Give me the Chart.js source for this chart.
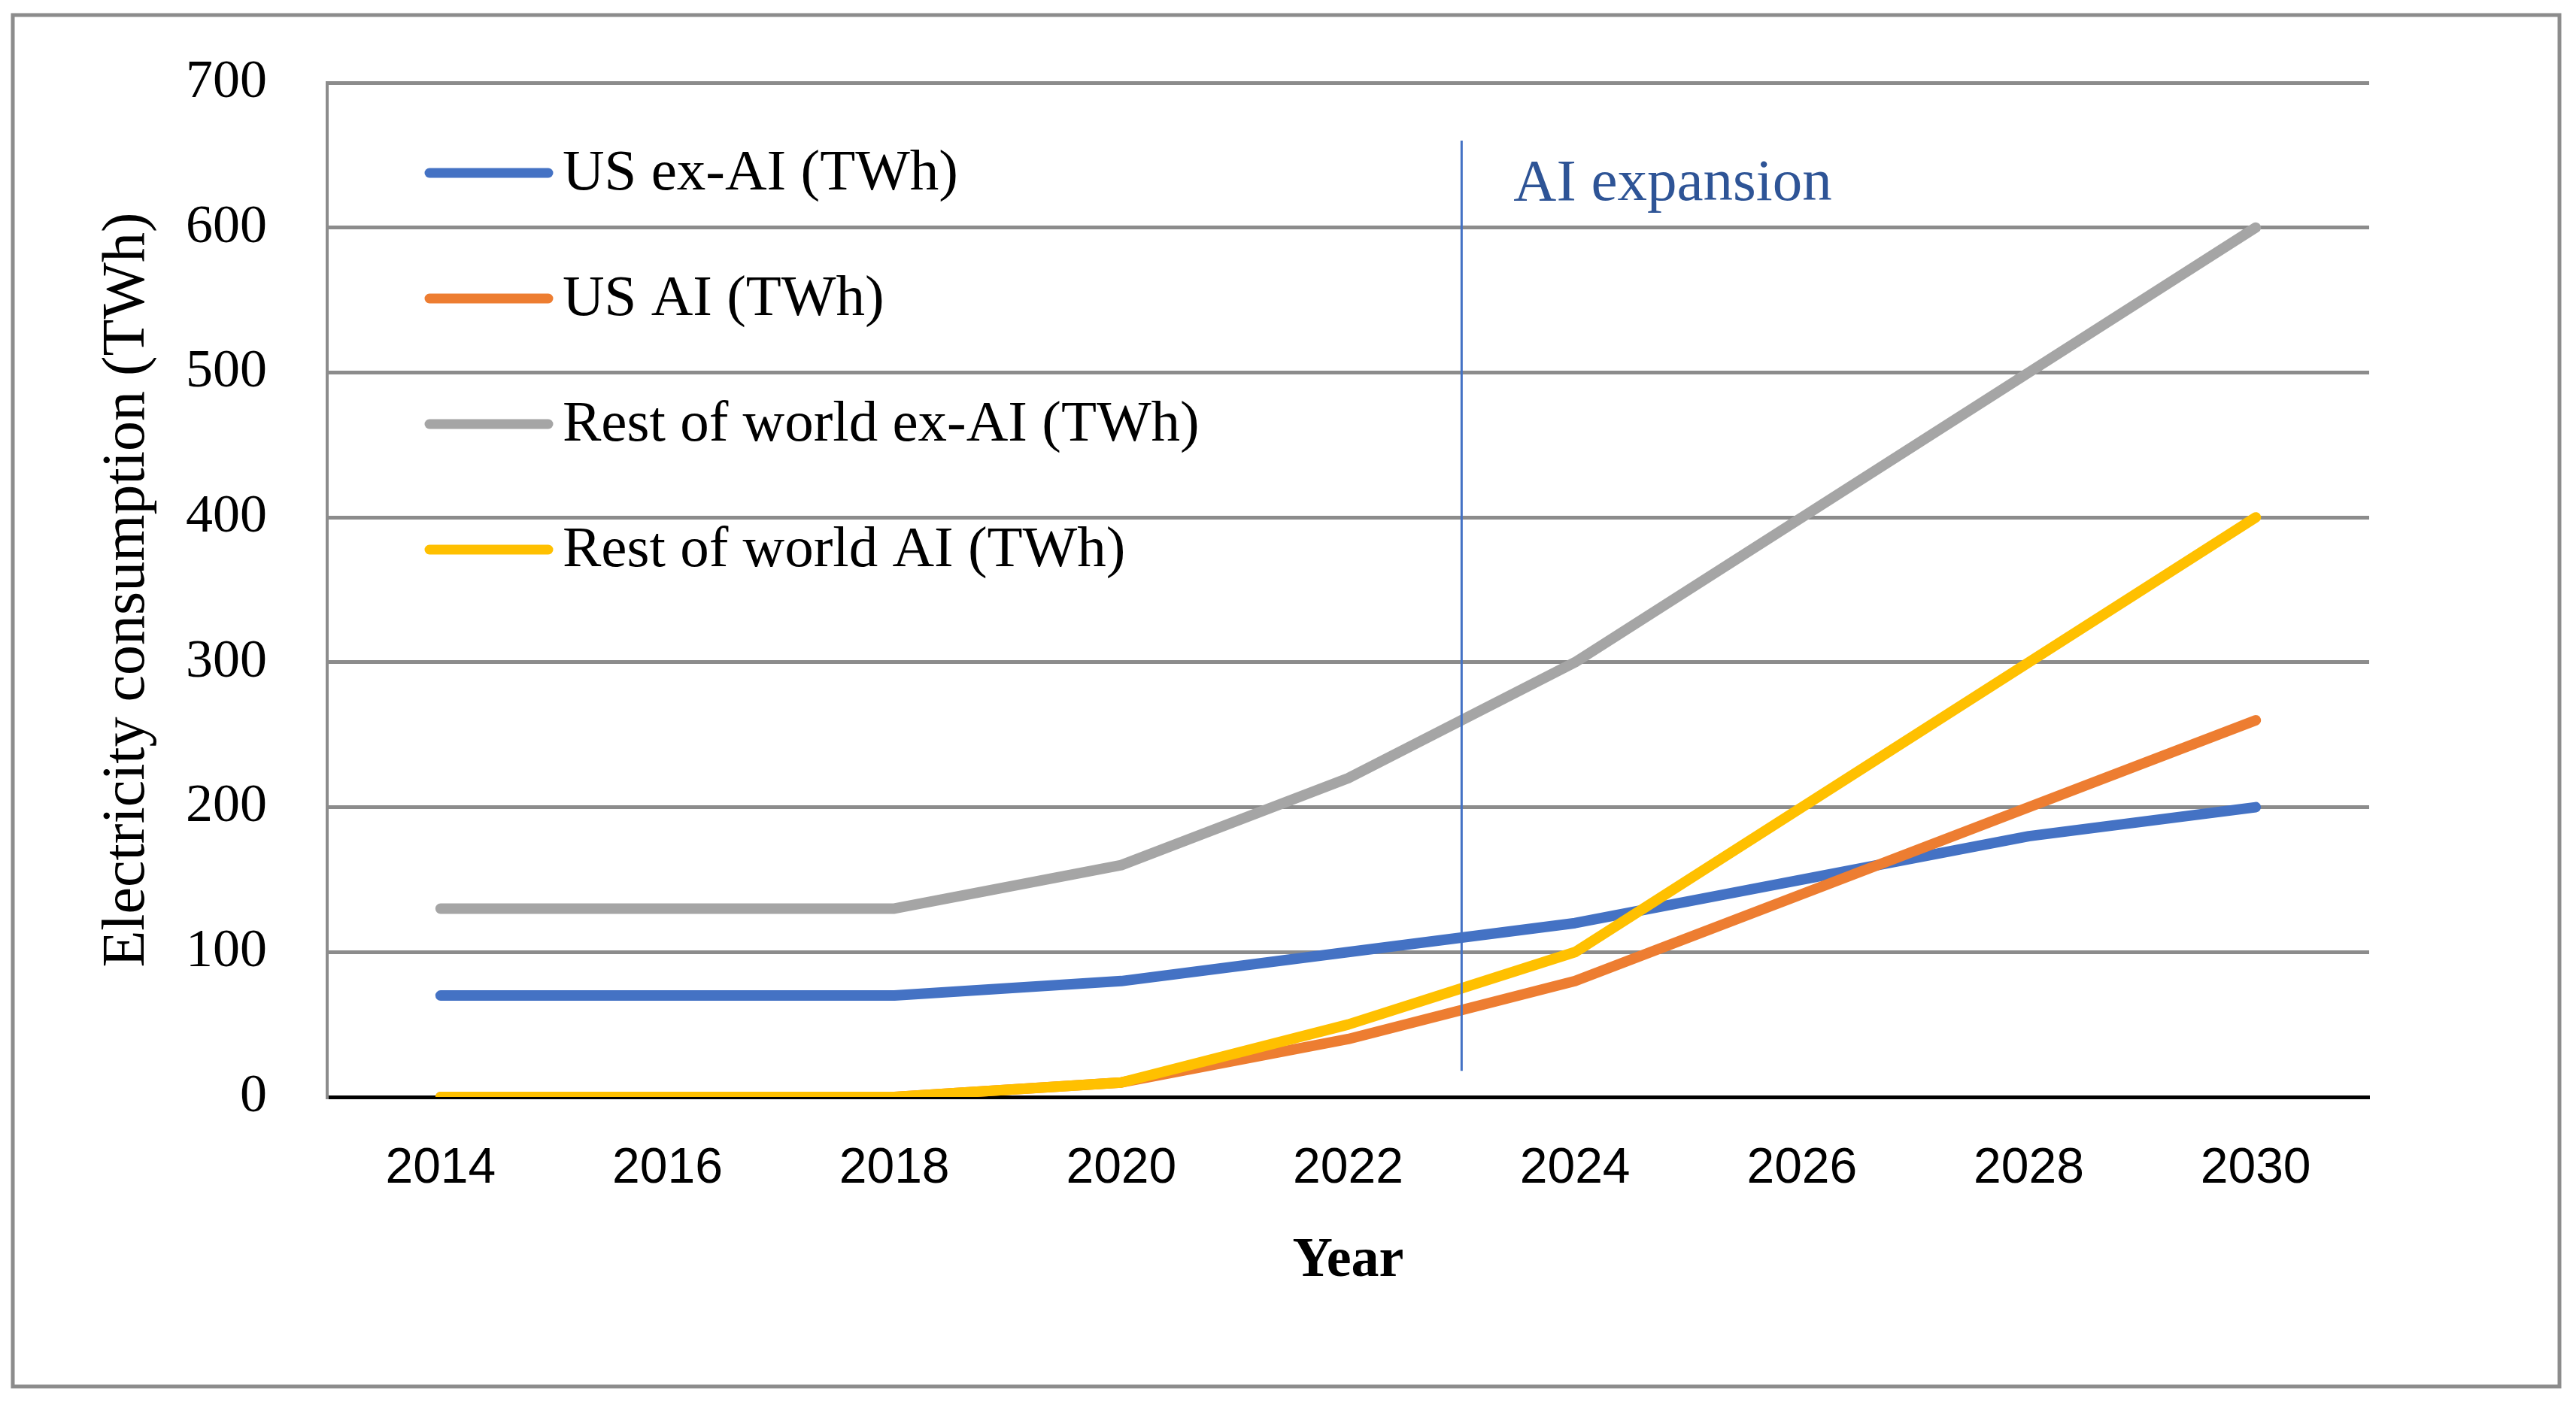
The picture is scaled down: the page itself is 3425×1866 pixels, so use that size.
<!DOCTYPE html>
<html>
<head>
<meta charset="utf-8">
<script src="https://cdn.jsdelivr.net/npm/chart.js@4/dist/chart.umd.min.js"></script>
<style>
  html, body { margin: 0; padding: 0; background: #ffffff; }
  #wrap { width: 3425px; height: 1866px; }
</style>
</head>
<body>
<div id="wrap"><canvas id="c" width="3425" height="1866"></canvas></div>
<script>
// ---- data ----
const years = ['2014', '2016', '2018', '2020', '2022', '2024', '2026', '2028', '2030'];
const seriesLabels = ['US ex-AI (TWh)', 'US AI (TWh)', 'Rest of world ex-AI (TWh)', 'Rest of world AI (TWh)'];
const usExAI  = [70, 70, 70, 80, 100, 120, 150, 180, 200];
const usAI    = [0, 0, 0, 10, 40, 80, 140, 200, 260];
const rowExAI = [130, 130, 130, 160, 220, 300, 400, 500, 600];
const rowAI   = [0, 0, 0, 10, 50, 100, 200, 300, 400];
const yMin = 0, yMax = 700, yStep = 100;
const markerBetween = ['2022', '2024'];
const markerRange = [18, 660];
const markerLabel = 'AI expansion';
const markerLabelValue = 619;
const xTitle = 'Year';
const yTitle = 'Electricity consumption (TWh)';

const colors = ['#4472C4', '#ED7D31', '#A5A5A5', '#FFC000'];
const serifFont = "'Liberation Serif', 'Times New Roman', serif";
const sansFont = "'Liberation Sans', Arial, sans-serif";

const frame = {
  id: 'frame',
  beforeDraw(chart) {
    const ctx = chart.ctx;
    ctx.save();
    ctx.fillStyle = '#ffffff';
    ctx.fillRect(0, 0, chart.width, chart.height);
    ctx.strokeStyle = '#8c8c8c';
    ctx.lineWidth = 5;
    ctx.strokeRect(17, 20, 3386, 1824);
    ctx.restore();
  }
};

const marker = {
  id: 'marker',
  afterDatasetsDraw(chart) {
    const {ctx, scales: {x, y}} = chart;
    const i0 = years.indexOf(markerBetween[0]);
    const i1 = years.indexOf(markerBetween[1]);
    const px = (x.getPixelForValue(i0) + x.getPixelForValue(i1)) / 2;
    ctx.save();
    ctx.strokeStyle = '#4472C4';
    ctx.lineWidth = 3;
    ctx.beginPath();
    ctx.moveTo(px, y.getPixelForValue(markerRange[1]));
    ctx.lineTo(px, y.getPixelForValue(markerRange[0]));
    ctx.stroke();
    ctx.fillStyle = '#2E5496';
    ctx.font = "79px " + serifFont;
    ctx.textAlign = 'left';
    ctx.textBaseline = 'alphabetic';
    ctx.fillText(markerLabel, px + 69, y.getPixelForValue(markerLabelValue));
    ctx.restore();
  }
};

const innerLegend = {
  id: 'innerLegend',
  afterDraw(chart) {
    const {ctx, chartArea} = chart;
    ctx.save();
    ctx.font = "77px " + serifFont;
    ctx.textAlign = 'left';
    ctx.textBaseline = 'alphabetic';
    chart.data.datasets.forEach((ds, i) => {
      const yy = chartArea.top + 120 + i * 167;
      ctx.strokeStyle = ds.borderColor;
      ctx.lineWidth = 13;
      ctx.lineCap = 'round';
      ctx.beginPath();
      ctx.moveTo(chartArea.left + 136, yy);
      ctx.lineTo(chartArea.left + 294, yy);
      ctx.stroke();
      ctx.fillStyle = '#000000';
      ctx.fillText(ds.label, chartArea.left + 313, yy + 22);
    });
    ctx.restore();
  }
};

const seriesData = [usExAI, usAI, rowExAI, rowAI];
const drawOrder = [4, 3, 2, 1];

new Chart(document.getElementById('c'), {
  type: 'line',
  data: {
    labels: years,
    datasets: seriesData.map((d, i) => ({
      label: seriesLabels[i],
      data: d,
      borderColor: colors[i],
      backgroundColor: colors[i],
      borderWidth: 14,
      borderCapStyle: 'round',
      borderJoinStyle: 'round',
      pointRadius: 0,
      pointHoverRadius: 0,
      tension: 0,
      fill: false,
      order: drawOrder[i]
    }))
  },
  options: {
    responsive: false,
    devicePixelRatio: 1,
    animation: false,
    layout: { padding: { left: 0, top: 110, right: 275, bottom: 0 } },
    plugins: {
      legend: { display: false },
      tooltip: { enabled: false },
      title: { display: false }
    },
    scales: {
      x: {
        type: 'category',
        offset: true,
        grid: { display: false, drawTicks: false },
        border: { display: true, color: '#000000', width: 5 },
        ticks: {
          color: '#000000',
          font: { family: sansFont, size: 66 },
          padding: 56,
          maxRotation: 0,
          autoSkip: false
        },
        title: {
          display: true,
          text: xTitle,
          color: '#000000',
          font: { family: serifFont, size: 74, weight: 'bold' },
          padding: { top: 0, bottom: 144 }
        },
        afterFit(scale) { scale.height = 407; }
      },
      y: {
        min: yMin,
        max: yMax,
        ticks: {
          stepSize: yStep,
          color: '#000000',
          font: { family: serifFont, size: 72 },
          padding: 80
        },
        grid: {
          color: (c) => (c.tick && c.tick.value === 0 ? '#000000' : '#8c8c8c'),
          lineWidth: 5,
          drawTicks: false
        },
        border: { display: true, color: '#8c8c8c', width: 4 },
        title: {
          display: true,
          text: yTitle,
          color: '#000000',
          font: { family: serifFont, size: 80 },
          padding: { top: 122, bottom: 0 }
        },
        afterFit(scale) {
          scale.width = 435;
          scale.paddingTop = 0;
          scale.paddingBottom = 0;
        }
      }
    }
  },
  plugins: [frame, marker, innerLegend]
});
</script>
</body>
</html>
